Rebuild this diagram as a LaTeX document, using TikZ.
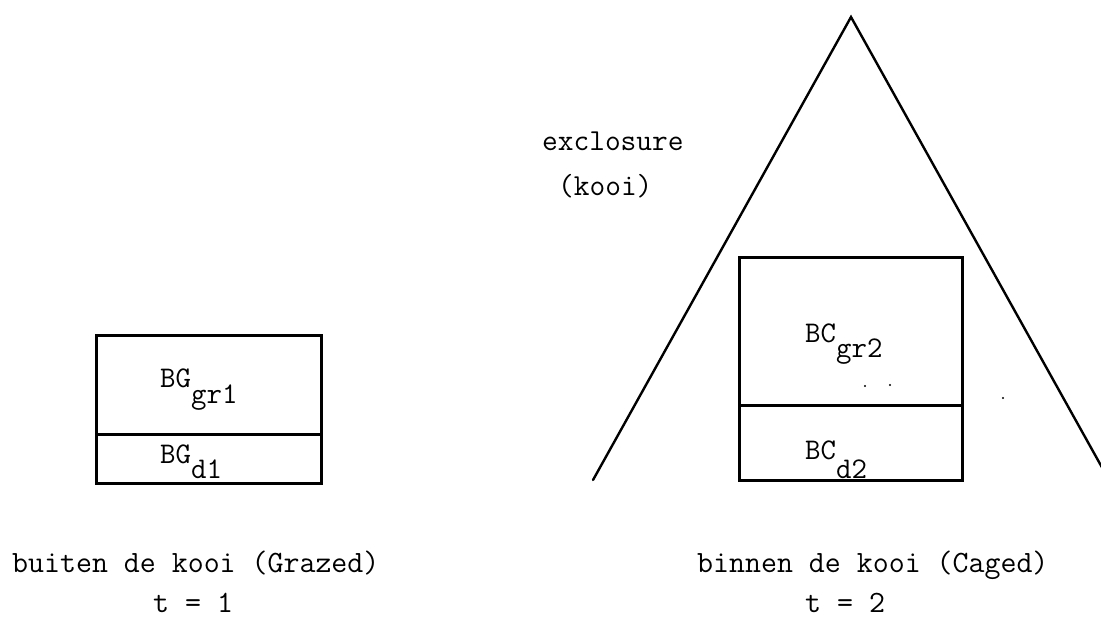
\documentclass[tikz,border=0pt]{standalone}
\usepackage{fontspec}
\begin{document}
\begin{tikzpicture}[x=1pt,y=-1pt,
  txt/.style={font=\ttfamily\fontsize{31}{37}\selectfont, inner sep=0pt, anchor=base west},
  plotlbl/.style={font=\ttfamily\fontsize{30}{36}\selectfont, inner sep=0pt, anchor=base west},
  plotbox/.style={line width=3pt, line join=miter},
  roof/.style={line width=2.4pt, line cap=round}]
\useasboundingbox (0,0) rectangle (1101,619);
\clip (0,0) rectangle (1101,619);

% exclosure (cage) seen from the side
\coordinate (apex) at (851,17);
\coordinate (footL) at (593,480);
\coordinate (footR) at (1109,480);
\draw[roof] (footL) -- (apex) -- (footR);

% grazed plot, outside the cage
\draw[plotbox] (96,335) rectangle (321,483);
\draw[plotbox] (96,434) -- (321,434);
\node[plotlbl] (bggr) at (160,387) {BG\raisebox{-16pt}{gr1}};
\node[plotlbl] (bgd) at (160,463) {BG\raisebox{-15pt}{d1}};

% caged plot, inside the cage
\draw[plotbox] (739,257) rectangle (962,480);
\draw[plotbox] (739,405) -- (962,405);
\node[plotlbl] (bcgr) at (805,342) {BC\raisebox{-15pt}{gr2}};
\node[plotlbl] (bcd) at (805,459) {BC\raisebox{-19pt}{d2}};

% stray specks
\fill (865,386) circle (1.1pt);
\fill (890,385) circle (1.1pt);
\fill (1003,398) circle (1.2pt);

% labels
\node[txt, font=\ttfamily\fontsize{30.5}{36}\selectfont] (excl) at (542,150) {exclosure};
\node[txt, font=\ttfamily\fontsize{30.5}{36}\selectfont] (kooi) at (558,195) {(kooi)};
\node[txt] (grazed) at (12,572) {buiten de kooi (Grazed)};
\node[txt] (t1) at (153,612) {t = 1};
\node[txt] (caged) at (697,572) {binnen de kooi (Caged)};
\node[txt] (t2) at (805,612) {t = 2};
\end{tikzpicture}
\end{document}
